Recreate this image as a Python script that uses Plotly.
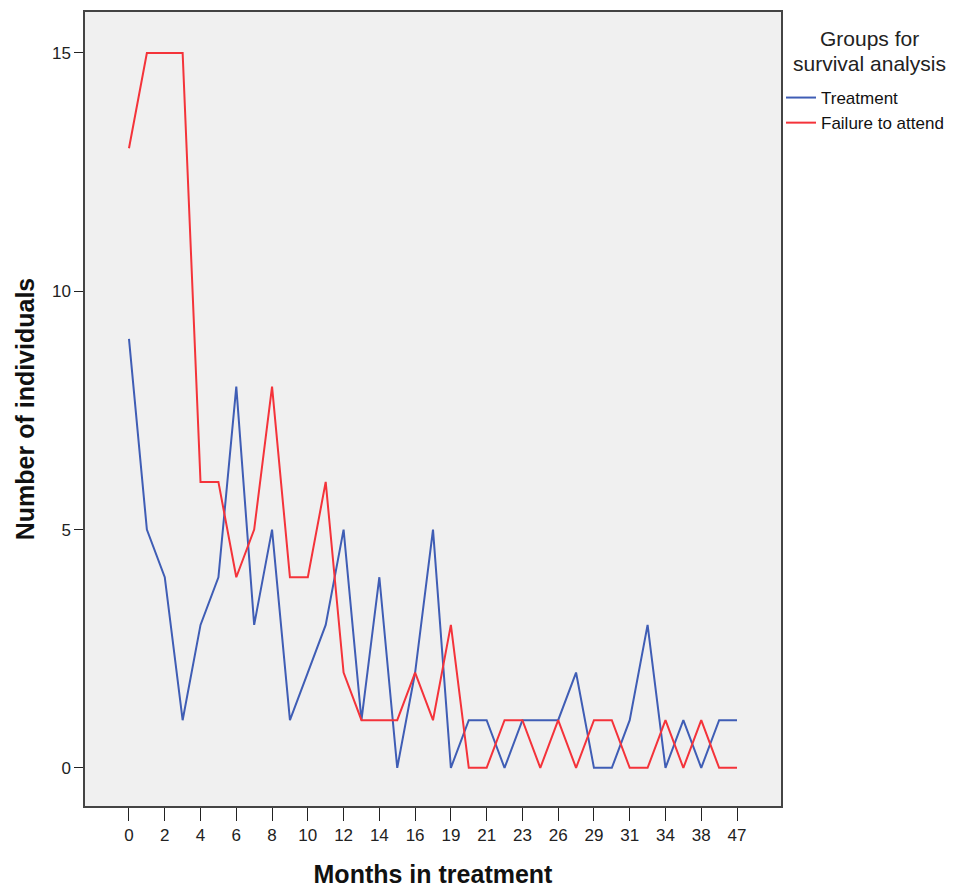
import plotly.graph_objects as go

months = ["0", "1", "2", "3", "4", "5", "6", "7", "8", "9", "10", "11", "12", "13", "14", "15",
          "16", "17", "19", "20", "21", "22", "23", "25", "26", "27", "29", "30", "31", "33",
          "34", "36", "38", "42", "47"]
treatment = [9, 5, 4, 1, 3, 4, 8, 3, 5, 1, 2, 3, 5, 1, 4, 0,
             2, 5, 0, 1, 1, 0, 1, 1, 1, 2, 0, 0, 1, 3,
             0, 1, 0, 1, 1]
failure = [13, 15, 15, 15, 6, 6, 4, 5, 8, 4, 4, 6, 2, 1, 1, 1,
           2, 1, 3, 0, 0, 1, 1, 0, 1, 0, 1, 1, 0, 0,
           1, 0, 1, 0, 0]
tick_labels = months[::2]
y_ticks = [0, 5, 10, 15]
legend_title_lines = ["Groups for", "survival analysis"]

fig = go.Figure()
fig.add_trace(go.Scatter(x=months, y=treatment, mode="lines", name="Treatment",
                         line=dict(color="#3F5DB5", width=2)))
fig.add_trace(go.Scatter(x=months, y=failure, mode="lines", name="Failure to attend",
                         line=dict(color="#F4333A", width=2)))

axis_font = dict(family="Liberation Sans", size=17, color="#222222")
title_font = dict(family="Liberation Sans", size=21, color="#222222")

# plot area: x 85..781, y 12..806 (height 794)
def py(pix):
    return (806 - pix) / 794

annotations = [
    dict(text=legend_title_lines[0], xref="paper", yref="paper",
         x=(869 - 85) / 696, y=py(39), xanchor="center", yanchor="middle",
         showarrow=False, font=title_font),
    dict(text=legend_title_lines[1], xref="paper", yref="paper",
         x=(869 - 85) / 696, y=py(63), xanchor="center", yanchor="middle",
         showarrow=False, font=title_font),
]

fig.update_layout(
    width=955, height=888,
    margin=dict(l=85, r=174, t=12, b=82, autoexpand=False),
    paper_bgcolor="white",
    plot_bgcolor="#F0F0F0",
    showlegend=True,
    legend=dict(
        x=1.0, y=py(80), xanchor="left", yanchor="top",
        font=dict(family="Liberation Sans", size=17, color="#111111"),
        bgcolor="rgba(0,0,0,0)",
        itemwidth=30,
        tracegroupgap=0,
    ),
    annotations=annotations,
    xaxis=dict(
        type="category",
        range=[-2.46, 36.46],
        tickmode="array", tickvals=tick_labels, ticktext=tick_labels,
        ticks="outside", ticklen=13, tickwidth=1, tickcolor="#222222",
        showgrid=False, zeroline=False,
        showline=True, linecolor="#444444", linewidth=1.5, mirror=True,
        tickfont=axis_font,
        title=dict(text="<b>Months in treatment</b>", standoff=30,
                   font=dict(family="Liberation Sans", size=25, color="#111111")),
    ),
    yaxis=dict(
        range=[-0.8, 15.86],
        tickmode="array", tickvals=y_ticks,
        ticks="outside", ticklen=9, tickwidth=1, tickcolor="#222222",
        showgrid=False, zeroline=False,
        showline=True, linecolor="#444444", linewidth=1.5, mirror=True,
        tickfont=axis_font,
        title=dict(text="<b>Number of individuals</b>", standoff=10,
                   font=dict(family="Liberation Sans", size=25, color="#111111")),
    ),
)

fig.write_html("out.html")
